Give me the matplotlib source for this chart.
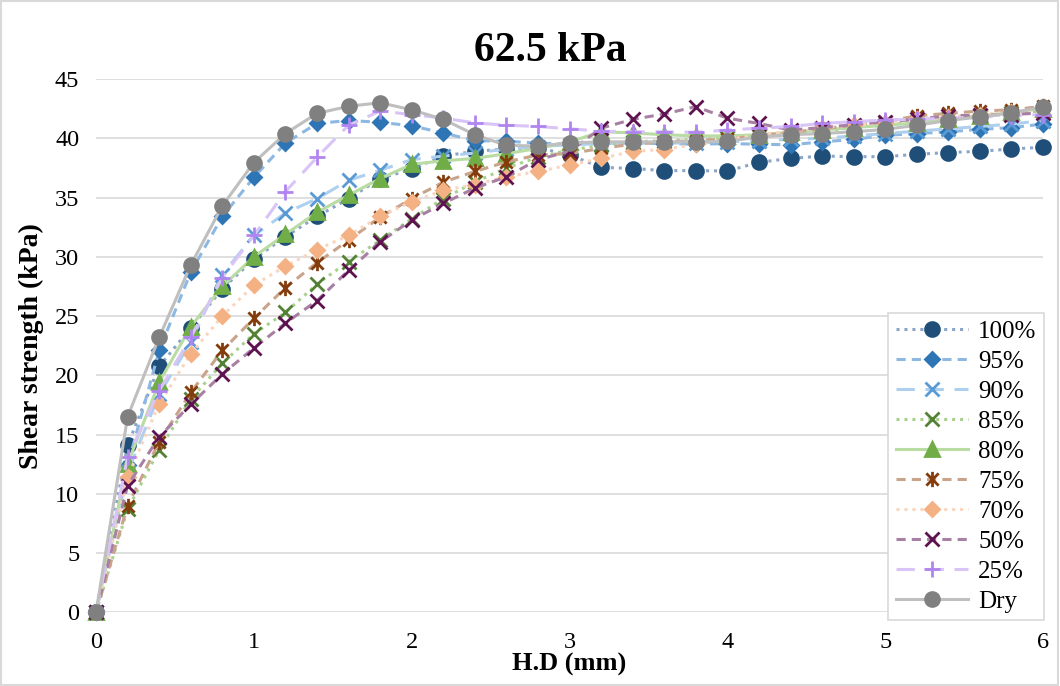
import matplotlib
matplotlib.use('Agg')
import matplotlib.pyplot as plt
from matplotlib.path import Path
from matplotlib.patches import Rectangle

# data
hd = [0, 0.2, 0.4, 0.6, 0.8, 1.0, 1.2, 1.4, 1.6, 1.8, 2.0, 2.2, 2.4, 2.6, 2.8, 3.0,
      3.2, 3.4, 3.6, 3.8, 4.0, 4.2, 4.4, 4.6, 4.8, 5.0, 5.2, 5.4, 5.6, 5.8, 6.0]

s100 = [0, 14.1, 20.75, 24.0, 27.3, 29.8, 31.7, 33.4, 34.9, 36.6, 37.4, 38.5, 38.9, 39.1, 39.2, 38.6,
        37.55, 37.45, 37.27, 37.27, 37.24, 37.97, 38.3, 38.5, 38.45, 38.45, 38.65, 38.8, 38.9, 39.1, 39.24]
s95 = [0, 12.4, 22.1, 28.7, 33.4, 36.7, 39.6, 41.25, 41.5, 41.35, 41.05, 40.45, 39.8, 39.75, 39.6, 39.5,
       39.6, 39.6, 39.55, 39.5, 39.55, 39.5, 39.45, 39.7, 39.9, 40.25, 40.4, 40.55, 40.75, 40.9, 41.2]
s90 = [0, 11.8, 18.4, 22.8, 28.5, 31.8, 33.7, 34.9, 36.45, 37.3, 38.2, 38.5, 38.75, 39.1, 39.3, 39.45,
       39.55, 39.6, 39.6, 39.6, 39.7, 39.8, 39.9, 40.0, 40.2, 40.4, 40.6, 40.8, 41.0, 41.2, 41.5]
s85 = [0, 8.7, 13.7, 18.0, 21.0, 23.5, 25.3, 27.7, 29.6, 31.4, 33.2, 34.9, 36.3, 37.5, 38.4, 39.0,
       39.4, 39.7, 39.8, 39.9, 40.0, 40.2, 40.4, 40.6, 40.9, 41.1, 41.4, 41.6, 41.9, 42.1, 42.3]
s80 = [0, 12.55, 19.4, 24.1, 27.5, 30.0, 31.9, 33.75, 35.2, 36.6, 37.8, 38.1, 38.3, 38.7, 39.15, 39.7,
       40.55, 40.45, 40.3, 40.2, 40.2, 40.3, 40.5, 40.7, 40.9, 41.1, 41.3, 41.6, 41.9, 42.2, 42.5]
s75 = [0, 9.0, 14.4, 18.55, 22.1, 24.8, 27.4, 29.5, 31.4, 33.35, 34.9, 36.3, 37.2, 38.0, 38.6, 38.7,
       39.15, 39.5, 39.7, 39.8, 39.95, 40.2, 40.5, 40.8, 41.1, 41.4, 41.9, 42.1, 42.3, 42.4, 42.7]
s70 = [0, 11.4, 17.6, 21.8, 25.0, 27.6, 29.2, 30.6, 31.8, 33.4, 34.65, 35.6, 36.1, 36.75, 37.2, 37.75,
       38.3, 38.9, 39.05, 39.5, 39.9, 40.3, 40.6, 40.9, 41.1, 41.3, 41.6, 41.8, 42.0, 42.2, 42.5]
s50 = [0, 10.7, 14.8, 17.55, 20.1, 22.3, 24.4, 26.3, 28.85, 31.25, 33.1, 34.5, 35.8, 36.75, 38.2, 38.9,
       40.85, 41.6, 42.05, 42.67, 41.7, 41.25, 40.7, 40.9, 41.15, 41.4, 41.6, 41.9, 41.95, 42.0, 42.15]
s25 = [0, 13.1, 18.7, 23.2, 28.25, 31.8, 35.5, 38.4, 41.1, 42.3, 42.0, 41.7, 41.3, 41.1, 41.0, 40.8,
       40.6, 40.55, 40.55, 40.5, 40.7, 40.85, 41.0, 41.25, 41.4, 41.55, 41.6, 41.7, 41.8, 41.9, 42.0]
sdry = [0, 16.5, 23.2, 29.3, 34.3, 37.95, 40.4, 42.1, 42.7, 43.0, 42.4, 41.6, 40.3, 39.4, 39.35, 39.6,
        39.7, 39.7, 39.7, 39.7, 39.75, 40.1, 40.3, 40.4, 40.55, 40.75, 41.1, 41.5, 41.8, 42.15, 42.65]

labels = ['100%', '95%', '90%', '85%', '80%', '75%', '70%', '50%', '25%', 'Dry']
y_ticks = [0, 5, 10, 15, 20, 25, 30, 35, 40, 45]
x_ticks = [0, 1, 2, 3, 4, 5, 6]

plt.rcParams['font.family'] = ['Liberation Serif', 'DejaVu Serif']

# Excel style star marker (x + vertical bar)
star = Path([(-1, -1), (1, 1), (-1, 1), (1, -1), (0, -1.25), (0, 1.25)],
            [Path.MOVETO, Path.LINETO, Path.MOVETO, Path.LINETO, Path.MOVETO, Path.LINETO])

# (data, line color, line style, marker, marker color, marker size)
series = [
    (s100, '#8AA5C8', (0, (1, 1.6)), 'o', '#1F4E79', 10),
    (s95, '#8DB8E2', (0, (3, 2)), 'D', '#2E75B6', 7.5),
    (s90, '#AFCFEF', (0, (6, 3.5)), 'x', '#5B9BD5', 10),
    (s85, '#A9D18E', (0, (1, 1.6)), 'x', '#548235', 10),
    (s80, '#B9DCA2', '-', '^', '#70AD47', 9.5),
    (s75, '#C9A38A', (0, (3, 2)), star, '#843C0C', 11),
    (s70, '#FAD5BE', (0, (1, 1.6)), 'D', '#F4B183', 7.5),
    (s50, '#A880A3', (0, (3, 2)), 'x', '#5E1250', 10),
    (s25, '#D8C4F6', (0, (6, 3.5)), '+', '#B185F0', 11),
    (sdry, '#BFBFBF', '-', 'o', '#808080', 10),
]

fig = plt.figure(figsize=(10.6, 6.86), dpi=100)
ax = fig.add_axes([0.0906, 0.1074, 0.8934, 0.7774])

for (vals, lc, ls, mk, mc, ms), lab in zip(series, labels):
    ax.plot(hd, vals, color=lc, linestyle=ls, linewidth=2.2, marker=mk,
            markersize=ms, markerfacecolor=mc, markeredgecolor=mc,
            markeredgewidth=2.0, label=lab, clip_on=False)

ax.set_xlim(0, 6)
ax.set_ylim(0, 45)
ax.set_xticks(x_ticks)
ax.set_yticks(y_ticks)
ax.grid(axis='y', color='#D9D9D9', linewidth=1.2)
ax.set_axisbelow(True)
for sp in ax.spines.values():
    sp.set_visible(False)
ax.tick_params(length=0, labelsize=17.5)
ax.tick_params(axis='x', pad=14)
ax.tick_params(axis='y', pad=12)

# title centred on the chart area, not on the plot area
fig.suptitle('62.5 kPa', x=0.519, y=0.953, fontsize=30, fontweight='bold')
ax.set_xlabel('H.D (mm)', fontsize=19, fontweight='bold', labelpad=0)
ax.set_ylabel('Shear strength (kPa)', fontsize=20, fontweight='bold', labelpad=8)

leg = ax.legend(loc='upper left', bbox_to_anchor=(0.838, 0.544),
                bbox_transform=fig.transFigure, fontsize=18, frameon=True,
                fancybox=False, framealpha=1, edgecolor='#D9D9D9',
                handlelength=2.9, labelspacing=0.3, borderpad=0.3,
                handletextpad=0.4, borderaxespad=0)
leg.get_frame().set_linewidth(1.2)

# chart area border
fig.patches.append(Rectangle((0.001, 0.001), 0.997, 0.997, transform=fig.transFigure,
                             fill=False, edgecolor='#D9D9D9', linewidth=1.5))

fig.savefig('out.png', dpi=100)
plt.close()
